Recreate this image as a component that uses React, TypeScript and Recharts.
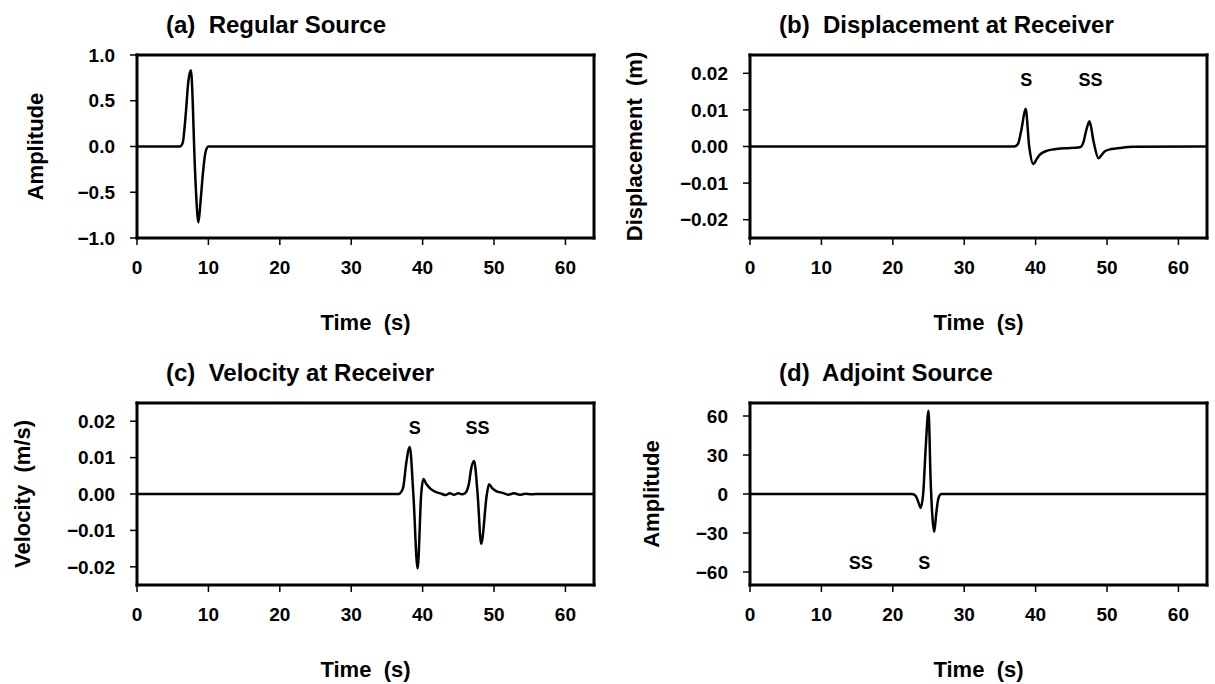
import React from "react"
import { Line, LineChart, ReferenceDot, XAxis, YAxis, Label } from "recharts"

// Four seismogram panels: source, displacement, velocity and adjoint source.
const FONT = '"Liberation Sans", Arial, Helvetica, sans-serif'

const timeTicks = [0, 10, 20, 30, 40, 50, 60]
const ampTicks = [-1, -0.5, 0, 0.5, 1]
const dispTicks = [-0.02, -0.01, 0, 0.01, 0.02]
const adjTicks = [-60, -30, 0, 30, 60]

// (a) regular source
const sourceTime = [0, 6.0, 6.4, 6.8, 7.2, 7.55, 7.8, 8.0, 8.3, 8.6, 8.9, 9.2, 9.6, 10.0, 64]
const sourceAmp = [0, 0, 0.04, 0.33, 0.72, 0.834, 0.5, 0.0, -0.55, -0.83, -0.6, -0.32, -0.06, 0, 0]

// (b) displacement at receiver
const dispTime = [0, 37.0, 37.5, 38.0, 38.6, 39.1, 39.7, 40.1, 40.6, 41.4, 42.4, 44.0, 46.2, 46.7, 47.1, 47.55, 48.1, 48.8, 49.2, 49.7, 50.6, 51.8, 53.6, 64]
const dispVal = [0, 0, 0.0006, 0.0045, 0.0103, 0.0, -0.0048, -0.0036, -0.0022, -0.0013, -0.0008, -0.0005, -0.0002, 0.0012, 0.0045, 0.0069, 0.0015, -0.0032, -0.0024, -0.0013, -0.0007, -0.0004, -0.0001, 0]

// (c) velocity at receiver
const velTime = [0, 36.6, 37.0, 37.3, 37.7, 38.2, 38.7, 39.3, 39.8, 40.1, 40.5, 41.0, 41.9, 42.6, 43.2, 43.8, 44.4, 45.0, 45.6, 46.0, 46.5, 46.8, 47.2, 47.7, 48.2, 49.0, 49.3, 49.7, 50.3, 51.2, 52.0, 52.8, 53.6, 54.4, 55.2, 55.8, 64]
const velVal = [0, 0, 0.0006, 0.002, 0.0084, 0.0129, 0, -0.0205, 0, 0.0041, 0.0028, 0.0016, 0.0005, 0.0001, -0.0003, 0.0002, -0.0002, 0.0002, -0.0001, 0.0003, 0.003, 0.007, 0.0091, 0, -0.0137, 0, 0.0027, 0.0017, 0.0008, 0.0003, -0.0002, 0.0002, -0.0002, 0.0001, -0.0001, 0, 0]

// (d) adjoint source
const adjTime = [0, 22.7, 23.2, 23.6, 23.9, 24.25, 24.6, 25.0, 25.3, 25.55, 25.8, 26.1, 26.4, 26.8, 64]
const adjVal = [0, 0, -1.5, -6.5, -10.7, 0, 35, 64, 10, -18, -29, -14, -3, 0, 0]

const dispMarks = [{ t: 38.7, v: 0.0183, text: "S" }, { t: 47.7, v: 0.0183, text: "SS" }]
const velMarks = [{ t: 38.9, v: 0.0183, text: "S" }, { t: 47.7, v: 0.0183, text: "SS" }]
const adjMarks = [{ t: 24.4, v: -52.8, text: "S" }, { t: 15.5, v: -52.8, text: "SS" }]

const toRows = (ts: number[], vs: number[]) => ts.map((t, i) => ({ t, v: vs[i] }))
const minus = (s: string) => s.replace("-", "\u2212")

type Mark = { t: number; v: number; text: string }

type PanelProps = {
  left: number
  top: number
  width: number
  height: number
  yAxisWidth: number
  rightWidth: number
  topH: number
  bottomH: number
  rows: { t: number; v: number }[]
  yDomain: [number, number]
  yTicks: number[]
  fmt: (v: number) => string
  yTitle: string
  yTitleOffset: number
  xTitleOffset: number
  title: string
  marks?: Mark[]
}

const frame = { stroke: "#000", strokeWidth: 3, strokeLinecap: "square" as const }
const tickLine = { stroke: "#000", strokeWidth: 1.5 }
const tickFont = { fontSize: 19, fontWeight: "bold", fill: "#000", fontFamily: FONT }
const labelFont = { fontSize: 22, fontWeight: "bold", fill: "#000", fontFamily: FONT }

// recharts' Text collapses runs of spaces, so the wide gap uses a no-break space
const NB = "\u00A0"

function Panel(p: PanelProps) {
  const plotLeft = p.left + p.yAxisWidth
  return (
    <>
      <div
        style={{
          position: "absolute",
          left: plotLeft + 29,
          top: p.top + p.topH - 42,
          fontSize: 24,
          lineHeight: "24px",
          fontWeight: "bold",
          fontFamily: FONT,
          whiteSpace: "pre",
          color: "#000",
        }}
      >
        {p.title}
      </div>
      <div style={{ position: "absolute", left: p.left, top: p.top }}>
        <LineChart width={p.width} height={p.height} margin={{ top: 0, right: 0, bottom: 0, left: 0 }}>
          <XAxis
            xAxisId="b"
            dataKey="t"
            type="number"
            domain={[0, 64]}
            ticks={timeTicks}
            height={p.bottomH}
            tickSize={7}
            tickMargin={16}
            axisLine={frame}
            tickLine={tickLine}
            tick={tickFont}
          >
            <Label value={`Time${NB} (s)`} position="insideBottom" offset={p.xTitleOffset} style={labelFont} />
          </XAxis>
          <XAxis
            xAxisId="top"
            orientation="top"
            type="number"
            domain={[0, 64]}
            ticks={timeTicks}
            height={p.topH}
            tickSize={7}
            axisLine={frame}
            tickLine={tickLine}
            tick={false}
          />
          <YAxis
            yAxisId="l"
            type="number"
            domain={p.yDomain}
            ticks={p.yTicks}
            width={p.yAxisWidth}
            tickSize={7}
            tickMargin={15}
            axisLine={frame}
            tickLine={tickLine}
            tick={tickFont}
            tickFormatter={p.fmt}
          >
            <Label
              value={p.yTitle}
              angle={-90}
              position="insideLeft"
              offset={p.yTitleOffset}
              style={{ ...labelFont, textAnchor: "middle" }}
            />
          </YAxis>
          <YAxis
            yAxisId="r"
            orientation="right"
            type="number"
            domain={p.yDomain}
            ticks={p.yTicks}
            width={p.rightWidth}
            tickSize={7}
            axisLine={frame}
            tickLine={tickLine}
            tick={false}
          />
          <Line
            xAxisId="b"
            yAxisId="l"
            data={p.rows}
            dataKey="v"
            type="monotone"
            stroke="#000"
            strokeWidth={2.5}
            dot={false}
            isAnimationActive={false}
          />
          {(p.marks ?? []).map((m) => (
            <ReferenceDot
              key={m.text}
              xAxisId="b"
              yAxisId="l"
              x={m.t}
              y={m.v}
              r={0}
              fill="none"
              stroke="none"
              label={{ value: m.text, position: "center", fontSize: 18, fontWeight: "bold", fill: "#000", fontFamily: FONT }}
            />
          ))}
        </LineChart>
      </div>
    </>
  )
}

export default function App() {
  return (
    <div style={{ position: "absolute", left: 0, top: 0, width: 1215, height: 684, background: "#fff", fontFamily: FONT }}>
      <Panel
        left={0}
        top={0}
        width={604}
        height={345}
        yAxisWidth={137}
        rightWidth={10}
        topH={55}
        bottomH={107}
        rows={toRows(sourceTime, sourceAmp)}
        yDomain={[-1, 1]}
        yTicks={ampTicks}
        fmt={(v) => minus(v.toFixed(1))}
        yTitle="Amplitude"
        yTitleOffset={35}
        xTitleOffset={15}
        title="(a)  Regular Source"
      />
      <Panel
        left={604}
        top={0}
        width={611}
        height={345}
        yAxisWidth={146}
        rightWidth={8}
        topH={55}
        bottomH={107}
        rows={toRows(dispTime, dispVal)}
        yDomain={[-0.025, 0.025]}
        yTicks={dispTicks}
        fmt={(v) => minus(v.toFixed(2))}
        yTitle={`Displacement${NB} (m)`}
        yTitleOffset={30}
        xTitleOffset={15}
        title="(b)  Displacement at Receiver"
        marks={dispMarks}
      />
      <Panel
        left={0}
        top={347}
        width={604}
        height={337}
        yAxisWidth={137}
        rightWidth={10}
        topH={56}
        bottomH={99}
        rows={toRows(velTime, velVal)}
        yDomain={[-0.025, 0.025]}
        yTicks={dispTicks}
        fmt={(v) => minus(v.toFixed(2))}
        yTitle={`Velocity${NB} (m/s)`}
        yTitleOffset={22}
        xTitleOffset={7}
        title="(c)  Velocity at Receiver"
        marks={velMarks}
      />
      <Panel
        left={604}
        top={347}
        width={611}
        height={337}
        yAxisWidth={146}
        rightWidth={8}
        topH={56}
        bottomH={99}
        rows={toRows(adjTime, adjVal)}
        yDomain={[-70, 70]}
        yTicks={adjTicks}
        fmt={(v) => minus(String(v))}
        yTitle="Amplitude"
        yTitleOffset={47}
        xTitleOffset={7}
        title="(d)  Adjoint Source"
        marks={adjMarks}
      />
    </div>
  )
}
